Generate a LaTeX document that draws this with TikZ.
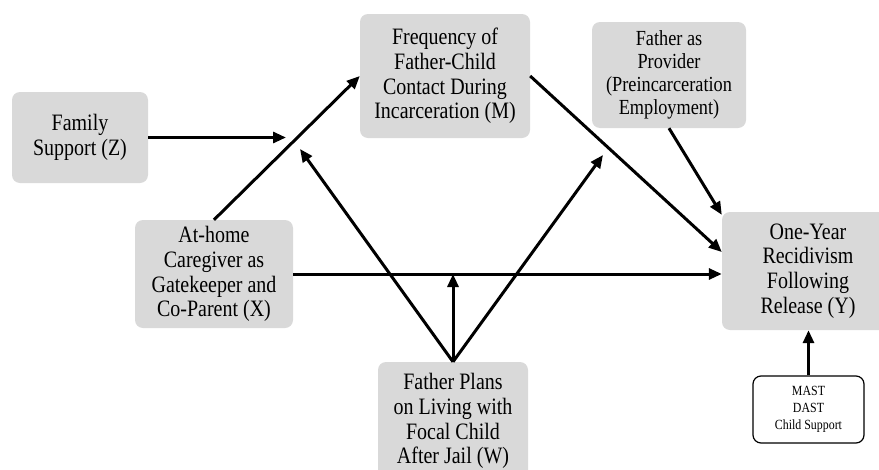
\documentclass[tikz,border=0pt]{standalone}
\usepackage{fontspec}
\setmainfont{Liberation Serif}[FakeStretch=0.85]
\usetikzlibrary{arrows.meta,calc}
\definecolor{boxgray}{RGB}{217,217,217}
\tikzset{
  gbox/.style={fill=boxgray, rounded corners=8pt, align=center, inner sep=0pt,
    font=\fontsize{23.5}{24.7}\selectfont},
  arr/.style={line width=3pt, -{Triangle[length=13pt,width=11pt]}},
}
\begin{document}
\begin{tikzpicture}[x=1pt,y=-1pt]
\useasboundingbox (0,0) rectangle (879,469);
\clip (0,0) rectangle (879,469);
\node[gbox, minimum width=136pt, minimum height=91pt] (z) at (80,137.5) {Family\\Support (Z)};
\node[gbox, minimum width=170pt, minimum height=124pt] (m) at (445,76) {Frequency of\\Father-Child\\Contact During\\Incarceration (M)};
\node[gbox, minimum width=154pt, minimum height=106pt, font=\fontsize{21.5}{22.8}\selectfont] (p) at (669,75) {Father as\\Provider\\(Preincarceration\\Employment)};
\node[gbox, minimum width=158pt, minimum height=108pt] (x) at (214,274) {At-home\\Caregiver as\\Gatekeeper and\\Co-Parent (X)};
\node[gbox, minimum width=150pt, minimum height=118pt] (w) at (453,421) {Father Plans\\on Living with\\Focal Child\\After Jail (W)};
\node[gbox, minimum width=172pt, minimum height=118pt] (y) at (808,271) {One-Year\\Recidivism\\Following\\Release (Y)};
\node[draw=black, line width=1.2pt, fill=white, rounded corners=8pt, align=center, inner sep=0pt,
  minimum width=111pt, minimum height=67pt, font=\fontsize{14}{16.8}\selectfont] (ms) at (808.5,409.5) {MAST\\DAST\\Child Support};
\coordinate (c0) at (286,137.5);
\coordinate (c1) at (300,149);
\coordinate (c2) at (603,155);
\draw[arr] (z.east) -- (c0);
\draw[arr] (x.north) -- (m.west);
\draw[arr] (m.east) -- ([yshift=19pt]y.west);
\draw[arr] (p.south) -- ([yshift=-3pt]y.north west);
\draw[arr] (x.east) -- (x.east -| y.west);
\draw[arr] (w.north) -- (c1);
\draw[arr] (w.north) -- (w.north |- x.east);
\draw[arr] (w.north) -- (c2);
\draw[arr] (ms.north) -- (ms.north |- y.south);
\end{tikzpicture}
\end{document}
